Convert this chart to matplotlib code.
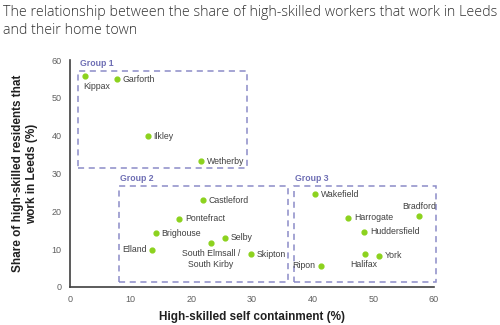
import matplotlib.pyplot as plt
from matplotlib.patches import Rectangle

# Données
towns = ["Kippax", "Garforth", "Ilkley", "Wetherby",
         "Castleford", "Pontefract", "Brighouse", "Selby",
         "South Elmsall /\nSouth Kirby", "Elland", "Skipton",
         "Wakefield", "Harrogate", "Bradford", "Huddersfield",
         "Halifax", "York", "Ripon"]
self_containment = [2.4, 7.7, 12.8, 21.6,
                    21.9, 18.0, 14.1, 25.5, 23.2, 13.5, 29.9,
                    40.4, 45.9, 57.5, 48.5, 48.6, 51.0, 41.4]
share_leeds = [55.8, 55.0, 39.9, 33.3,
               23.0, 18.1, 14.2, 13.0, 11.6, 9.8, 8.6,
               24.5, 18.3, 18.9, 14.6, 8.6, 8.3, 5.6]

groups = ["Group 1", "Group 2", "Group 3"]
group_x = [(1.4, 29.1), (8.1, 36.0), (36.9, 60.4)]
group_y = [(31.5, 57.2), (1.4, 26.8), (1.4, 26.8)]

# position des étiquettes (décalage en points, alignement)
label_pos = {
    "Kippax": ((-1, -4), "left", "top"),
    "Garforth": ((4, 0), "left", "center"),
    "Ilkley": ((4, 0), "left", "center"),
    "Wetherby": ((4, 0), "left", "center"),
    "Castleford": ((4, 0), "left", "center"),
    "Pontefract": ((4, 0), "left", "center"),
    "Brighouse": ((4, 0), "left", "center"),
    "Selby": ((4, 0), "left", "center"),
    "South Elmsall /\nSouth Kirby": ((0, -4), "center", "top"),
    "Elland": ((-4, 0), "right", "center"),
    "Skipton": ((4, 0), "left", "center"),
    "Wakefield": ((4, 0), "left", "center"),
    "Harrogate": ((4, 0), "left", "center"),
    "Bradford": ((0, 3), "center", "bottom"),
    "Huddersfield": ((4, 0), "left", "center"),
    "Halifax": ((-1, -4), "center", "top"),
    "York": ((4, 0), "left", "center"),
    "Ripon": ((-4, 0), "right", "center"),
}

plt.rcParams['font.family'] = ['Liberation Sans', 'DejaVu Sans']

fig = plt.figure(figsize=(5, 3.25), dpi=100)
ax = fig.add_axes([0.14, 0.117, 0.728, 0.698])

ax.scatter(self_containment, share_leeds, s=12, color="#8cd21e", zorder=3)

for name, x, y in zip(towns, self_containment, share_leeds):
    off, ha, va = label_pos[name]
    ax.annotate(name, (x, y), xytext=off, textcoords="offset points",
                ha=ha, va=va, fontsize=6.3, color="#404040",
                linespacing=1.3)

for g, (x0, x1), (y0, y1) in zip(groups, group_x, group_y):
    ax.add_patch(Rectangle((x0, y0), x1 - x0, y1 - y0, fill=False,
                           edgecolor="#8c8cc8", linestyle=(0, (4, 3)),
                           linewidth=1.1, clip_on=False, zorder=2))
    ax.text(x0 + 0.2, y1 + 0.8, g, fontsize=6.3, color="#6e6eb4",
            fontweight="bold", ha="left", va="bottom")

ax.set_xlim(0, 60)
ax.set_ylim(0, 60)
ax.set_xticks(range(0, 61, 10))
ax.set_yticks(range(0, 61, 10))
ax.tick_params(length=0, labelsize=6.5, labelcolor="#606060", pad=6)
for s in ["top", "right"]:
    ax.spines[s].set_visible(False)
for s in ["left", "bottom"]:
    ax.spines[s].set_color("#404040")
    ax.spines[s].set_linewidth(1.2)

ax.set_xlabel("High-skilled self containment (%)", fontsize=8.5,
              fontweight="bold", color="#202020", labelpad=5)
ax.set_ylabel("Share of high-skilled residents that\nwork in Leeds (%)",
              fontsize=8.5, fontweight="bold", color="#202020", labelpad=10)

fig.text(0.006, 0.985, "The relationship between the share of high-skilled workers that work in Leeds\nand their home town",
         fontsize=10.25, color="#303030", ha="left", va="top", linespacing=1.25,
         family=["Open Sans", "DejaVu Sans"], fontweight="light")

fig.savefig("out.png", dpi=100)
